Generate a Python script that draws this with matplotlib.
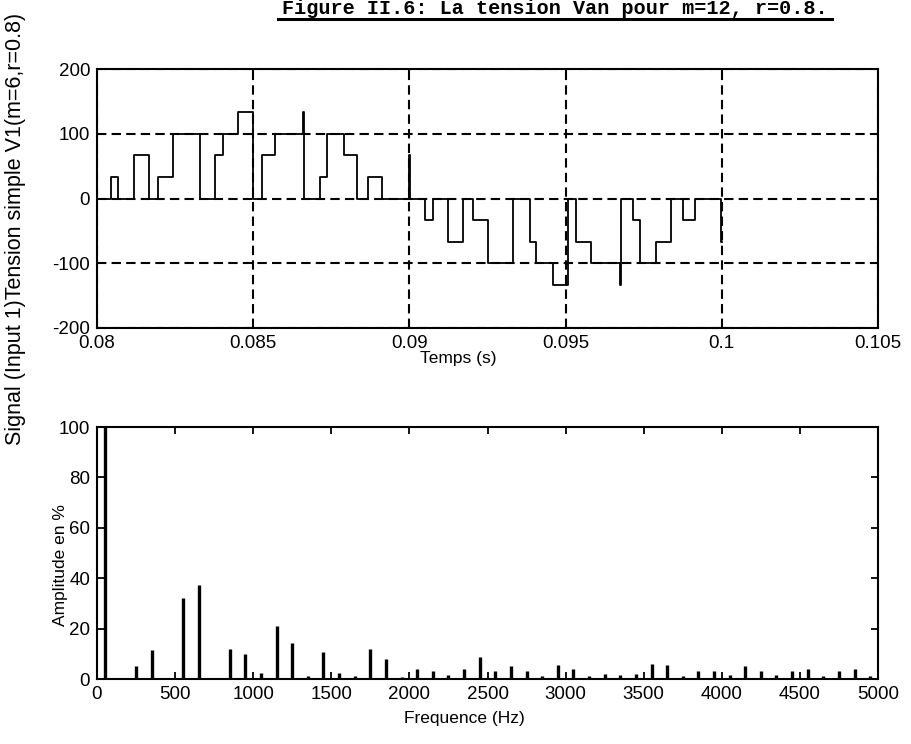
import matplotlib
matplotlib.use("Agg")
import matplotlib.pyplot as plt
from matplotlib.lines import Line2D

plt.rcParams['font.family'] = ['Liberation Sans', 'DejaVu Sans']
plt.rcParams['axes.unicode_minus'] = False

# --- Phase voltage V1: switching instants (s) and level held after each instant (V)
t_switch = [0.08000, 0.08044, 0.08068, 0.08118, 0.08167, 0.08196, 0.08242,
            0.08329, 0.08377, 0.08402, 0.08452, 0.08498, 0.08527, 0.08569,
            0.08660, 0.08663, 0.08713, 0.08737, 0.08790, 0.08831, 0.08868,
            0.08911, 0.09000, 0.09003,
            0.09049, 0.09076, 0.09124, 0.09172, 0.09204, 0.09250, 0.09332,
            0.09385, 0.09406, 0.09460, 0.09508, 0.09534, 0.09582, 0.09673,
            0.09676, 0.09716, 0.09737, 0.09790, 0.09838, 0.09876, 0.09913,
            0.09997, 0.10000]
v_level = [0.0, 33.3, 0.0, 66.7, 0.0, 33.3, 100.0,
           0.0, 66.7, 100.0, 133.3, 0.0, 66.7, 100.0,
           133.3, 0.0, 33.3, 100.0, 66.7, 0.0, 33.3,
           0.0, 66.7, 0.0,
           -33.3, 0.0, -66.7, 0.0, -33.3, -100.0, 0.0,
           -66.7, -100.0, -133.3, 0.0, -66.7, -100.0, -133.3,
           0.0, -33.3, -100.0, -66.7, 0.0, -33.3, 0.0,
           -66.7, -66.7]

t_ticks = [0.08, 0.085, 0.09, 0.095, 0.1, 0.105]
t_ticklabels = ['0.08', '0.085', '0.09', '0.095', '0.1', '0.105']
v_ticks = [-200, -100, 0, 100, 200]
v_ticklabels = ['-200', '-100', '0', '100', '200']

# --- Harmonic spectrum (odd harmonics of 50 Hz), amplitude in % of fundamental
harm_freq = [50, 150, 250, 350, 450, 550, 650, 750, 850, 950,
             1050, 1150, 1250, 1350, 1450, 1550, 1650, 1750, 1850, 1950,
             2050, 2150, 2250, 2350, 2450, 2550, 2650, 2750, 2850, 2950,
             3050, 3150, 3250, 3350, 3450, 3550, 3650, 3750, 3850, 3950,
             4050, 4150, 4250, 4350, 4450, 4550, 4650, 4750, 4850, 4950]
harm_amp = [100.0, 0.5, 5.0, 11.5, 0.5, 32.3, 37.4, 0.5, 12.0, 9.8,
            2.5, 21.0, 14.2, 1.0, 10.7, 2.5, 1.0, 12.0, 7.8, 0.8,
            4.0, 3.0, 1.5, 4.0, 8.6, 3.0, 5.0, 3.0, 1.0, 5.5,
            4.0, 1.0, 2.0, 1.5, 2.0, 6.0, 5.5, 1.0, 3.0, 3.0,
            1.5, 5.0, 3.0, 1.5, 3.0, 4.0, 1.0, 3.0, 4.0, 1.0]

f_ticks = [0, 500, 1000, 1500, 2000, 2500, 3000, 3500, 4000, 4500, 5000]
a_ticks = [0, 20, 40, 60, 80, 100]

W, H = 911, 744
fig = plt.figure(figsize=(W / 100, H / 100), dpi=100)


def px_axes(left, top, right, bottom):
    return [left / W, 1 - bottom / H, (right - left) / W, (bottom - top) / H]


def style_axes(ax):
    for s in ax.spines.values():
        s.set_linewidth(1.5)
        s.set_color('black')
    ax.tick_params(direction='in', length=5, width=1.3, top=True, right=True,
                   labelsize=13.5, pad=5, colors='black')


# Top: time-domain voltage
ax1 = fig.add_axes(px_axes(97, 69, 878, 328))
ax1.step(t_switch, v_level, where='post', color='black', lw=1.3)
ax1.set_xlim(0.08, 0.105)
ax1.set_ylim(-200, 200)
ax1.set_xticks(t_ticks)
ax1.set_xticklabels(t_ticklabels)
ax1.set_yticks(v_ticks)
ax1.set_yticklabels(v_ticklabels)
ax1.grid(True, color='black', linestyle=(0, (4.5, 2.5)), lw=1.5)
style_axes(ax1)
ax1.set_xlabel('Temps (s)', fontsize=12.5)
ax1.xaxis.set_label_coords(458 / W, 1 - 358 / H, transform=fig.transFigure)
ax1.xaxis.label.set_va('center')

# Bottom: harmonic spectrum
ax2 = fig.add_axes(px_axes(97, 427, 878, 679))
ax2.vlines(harm_freq, 0, harm_amp, color='black', lw=2.4)
ax2.set_xlim(0, 5000)
ax2.set_ylim(0, 100)
ax2.set_xticks(f_ticks)
ax2.set_yticks(a_ticks)
style_axes(ax2)
ax2.set_xlabel('Frequence (Hz)', fontsize=12.5)
ax2.xaxis.set_label_coords(464 / W, 1 - 718 / H, transform=fig.transFigure)
ax2.xaxis.label.set_va('center')

# Left-side labels
fig.text(16 / W, 1 - 445 / H, 'Signal (Input 1)Tension simple V1(m=6,r=0.8)',
         rotation=90, ha='center', va='bottom', fontsize=15.5)
fig.text(60 / W, 1 - 565 / H, 'Amplitude en %', rotation=90,
         ha='center', va='center', fontsize=12.5)

# Underlined caption at the top
fig.text(555 / W, 1 - 14 / H, 'Figure II.6: La tension Van pour m=12, r=0.8.',
         ha='center', va='baseline', fontsize=14.5,
         family=['Liberation Mono', 'DejaVu Sans Mono'], weight='bold')
fig.add_artist(Line2D([278 / W, 832 / W], [1 - 19 / H, 1 - 19 / H],
                      transform=fig.transFigure, color='black', lw=2.2))

fig.savefig('out.png', dpi=100)
